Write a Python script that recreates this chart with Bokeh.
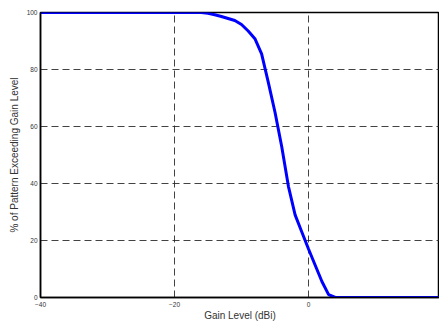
from bokeh.plotting import figure
from bokeh.models import Range1d, FixedTicker
from bokeh.embed import file_html
from bokeh.resources import INLINE

# Cumulative gain distribution: share of the pattern above each gain level
gain_dbi = [-40, -30, -20, -16, -15, -14, -13, -12, -11, -10, -9, -8, -7, -6,
            -5, -4, -3, -2, -1, 0, 1, 2, 3, 4, 10, 20]
pct_exceeding = [100, 100, 100, 100, 99.7, 99.2, 98.6, 97.9, 97.2, 95.8, 93.5,
                 90.8, 85.5, 75.5, 65.0, 53.0, 39.0, 29.0, 23.0, 17.0, 11.3,
                 5.6, 1.0, 0, 0, 0]

x_ticks = [-40, -20, 0, 20]
y_ticks = [0, 20, 40, 60, 80, 100]

p = figure(width=439, height=323, output_backend="svg", toolbar_location=None,
           x_range=Range1d(-40, 19.55), y_range=Range1d(0, 100),
           min_border_left=40, min_border_right=0, min_border_top=12,
           min_border_bottom=24)

p.background_fill_color = "white"
p.border_fill_color = "white"
p.outline_line_color = "black"
p.outline_line_width = 1.5

p.line(gain_dbi, pct_exceeding, line_color="#0000ff", line_width=3)

for ax in (p.xaxis[0], p.yaxis[0]):
    ax.axis_line_color = "black"
    ax.axis_line_width = 1.5
    ax.major_tick_in = 0
    ax.major_tick_out = 0
    ax.minor_tick_in = 0
    ax.minor_tick_out = 0
    ax.major_label_text_font = "Liberation Sans"
    ax.major_label_text_font_size = "6.5px"
    ax.major_label_text_color = "#333333"
    ax.axis_label_text_font = "Liberation Sans"
    ax.axis_label_text_font_size = "10px"
    ax.axis_label_text_font_style = "normal"
    ax.axis_label_text_color = "#333333"

p.xaxis[0].ticker = FixedTicker(ticks=x_ticks)
p.yaxis[0].ticker = FixedTicker(ticks=y_ticks)
p.xaxis[0].major_label_standoff = 4
p.yaxis[0].major_label_standoff = 3
p.xaxis[0].axis_label = "Gain Level (dBi)"
p.yaxis[0].axis_label = "% of Pattern Exceeding Gain Level"
p.xaxis[0].axis_label_standoff = 0
p.yaxis[0].axis_label_standoff = 4

for g in (p.xgrid[0], p.ygrid[0]):
    g.grid_line_color = "#222222"
    g.grid_line_width = 1
    g.grid_line_dash = "7 4"
    g.grid_line_alpha = 0.85

open("out.html", "w").write(file_html(p, INLINE))
